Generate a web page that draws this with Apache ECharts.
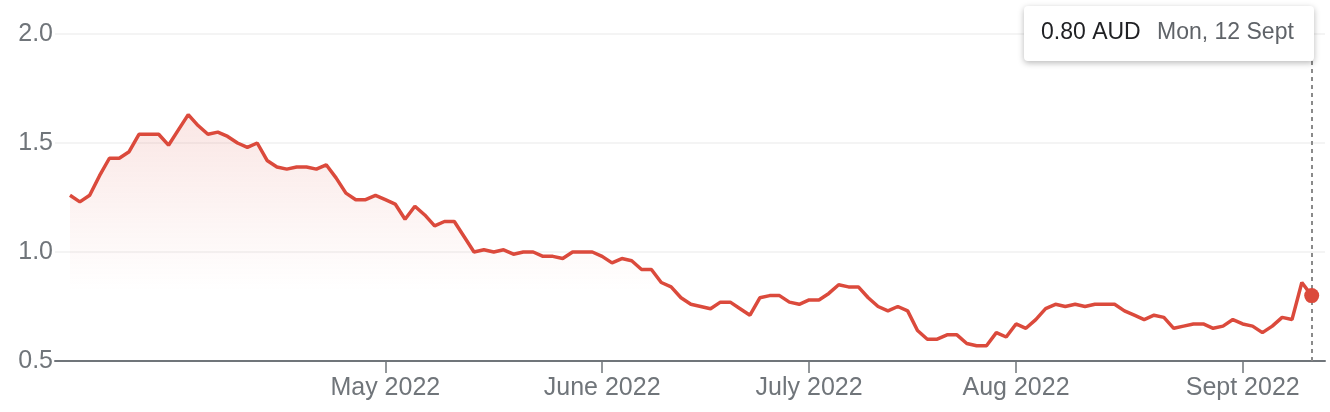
<!DOCTYPE html>
<html>
<head>
<meta charset="utf-8">
<script src="https://cdn.jsdelivr.net/npm/echarts@6/dist/echarts.min.js"></script>
<style>
  html, body { margin: 0; padding: 0; background: #fff; }
  #chart { width: 1330px; height: 412px; }
</style>
</head>
<body>
<div id="chart"></div>
<script>
// daily closes (AUD), one per trading day, 14 Mar -> 12 Sept 2022
const prices = [
  1.26, 1.23, 1.26, 1.35, 1.43, 1.43, 1.46, 1.54, 1.54, 1.54,
  1.49, 1.56, 1.63, 1.58, 1.54, 1.55, 1.53, 1.50, 1.48, 1.50,
  1.42, 1.39, 1.38, 1.39, 1.39, 1.38, 1.40, 1.34, 1.27, 1.24,
  1.24, 1.26, 1.24, 1.22, 1.15, 1.21, 1.17, 1.12, 1.14, 1.14,
  1.07, 1.00, 1.01, 1.00, 1.01, 0.99, 1.00, 1.00, 0.98, 0.98,
  0.97, 1.00, 1.00, 1.00, 0.98, 0.95, 0.97, 0.96, 0.92, 0.92,
  0.86, 0.84, 0.79, 0.76, 0.75, 0.74, 0.77, 0.77, 0.74, 0.71,
  0.79, 0.80, 0.80, 0.77, 0.76, 0.78, 0.78, 0.81, 0.85, 0.84,
  0.84, 0.79, 0.75, 0.73, 0.75, 0.73, 0.64, 0.60, 0.60, 0.62,
  0.62, 0.58, 0.57, 0.57, 0.63, 0.61, 0.67, 0.65, 0.69, 0.74,
  0.76, 0.75, 0.76, 0.75, 0.76, 0.76, 0.76, 0.73, 0.71, 0.69,
  0.71, 0.70, 0.65, 0.66, 0.67, 0.67, 0.65, 0.66, 0.69, 0.67,
  0.66, 0.63, 0.66, 0.70, 0.69, 0.86, 0.80
];

// first trading day of each month (index into prices)
const monthTickIdx = [32, 54, 75, 96, 119];
const monthLabels = ['May 2022', 'June 2022', 'July 2022', 'Aug 2022', 'Sept 2022'];

const yTicks = [0.5, 1.0, 1.5, 2.0];

const lastIdx = prices.length - 1;
const lastPrice = prices[lastIdx];
const tipDate = 'Mon, 12 Sept';

const RED = '#db4a3c';
const GREY = '#70757a';
const FONT = '"Liberation Sans", Arial, sans-serif';

const chart = echarts.init(document.getElementById('chart'));

chart.setOption({
  animation: false,
  grid: { left: 55, right: 5, top: 34, bottom: 51 },
  xAxis: {
    type: 'value',
    min: -1.52,
    max: 127.35,
    splitLine: { show: false },
    axisLine: { show: true, lineStyle: { color: GREY, width: 2 } },
    axisTick: {
      show: true,
      customValues: monthTickIdx,
      length: 12,
      lineStyle: { color: GREY, width: 1.5 }
    },
    axisLabel: {
      customValues: monthTickIdx,
      formatter: (v) => monthLabels[monthTickIdx.indexOf(Math.round(v))] || '',
      color: GREY,
      fontFamily: FONT,
      fontSize: 25,
      margin: 15
    }
  },
  yAxis: {
    type: 'value',
    min: yTicks[0],
    max: yTicks[yTicks.length - 1],
    interval: 0.5,
    axisLine: { show: false },
    axisTick: { show: false },
    splitLine: { lineStyle: { color: '#f1f1f1', width: 1.5 } },
    axisLabel: {
      formatter: (v) => v.toFixed(1),
      color: GREY,
      fontFamily: FONT,
      fontSize: 25,
      margin: 2
    }
  },
  series: [
    {
      type: 'line',
      data: prices.map((p, i) => [i, p]),
      symbol: 'none',
      lineStyle: { color: RED, width: 3.5 },
      areaStyle: {
        color: {
          type: 'linear', x: 0, y: 110, x2: 0, y2: 292, global: true,
          colorStops: [
            { offset: 0, color: 'rgba(219,74,60,0.2)' },
            { offset: 1, color: 'rgba(219,74,60,0)' }
          ]
        }
      },
      markLine: {
        silent: true,
        symbol: ['none', 'none'],
        label: { show: false },
        lineStyle: { color: '#8a8a8a', width: 2, type: [4, 4] },
        data: [{ xAxis: lastIdx }]
      },
      z: 2
    },
    {
      type: 'scatter',
      data: [[lastIdx, lastPrice]],
      symbol: 'circle',
      symbolSize: 15,
      itemStyle: { color: RED, opacity: 1 },
      zlevel: 1,
      z: 10
    }
  ],
  graphic: [
    {
      type: 'rect',
      zlevel: 1,
      z: 100,
      shape: { x: 1024, y: 6, width: 290, height: 55, r: 4 },
      style: {
        fill: '#fff',
        shadowBlur: 6,
        shadowColor: 'rgba(0,0,0,0.28)',
        shadowOffsetY: 2
      }
    },
    {
      type: 'text',
      zlevel: 1,
      z: 101,
      x: 1041, y: 33,
      style: {
        text: lastPrice.toFixed(2) + ' AUD',
        fill: '#202124',
        font: '23px ' + FONT,
        verticalAlign: 'middle'
      }
    },
    {
      type: 'text',
      zlevel: 1,
      z: 101,
      x: 1157, y: 33,
      style: {
        text: tipDate,
        fill: '#5f6368',
        font: '23px ' + FONT,
        verticalAlign: 'middle'
      }
    }
  ]
});
</script>
</body>
</html>
